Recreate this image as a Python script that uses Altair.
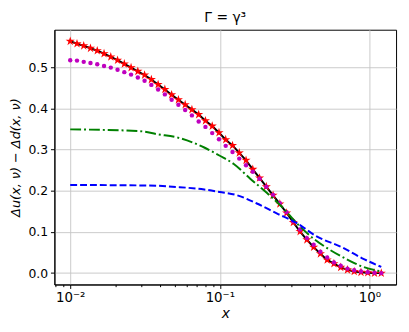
import altair as alt
import pandas as pd

# ---- data ----
x_pts = [0.0100, 0.01110, 0.01231, 0.01366, 0.01516, 0.01683, 0.01867, 0.02072,
         0.02299, 0.02551, 0.02831, 0.03141, 0.03486, 0.03868, 0.04292, 0.04764,
         0.05286, 0.05866, 0.06509, 0.07223, 0.08015, 0.08894, 0.09872, 0.1095,
         0.1216, 0.1349, 0.1497, 0.1661, 0.1843, 0.2045, 0.2270, 0.2519,
         0.2795, 0.3101, 0.3441, 0.3819, 0.4238, 0.4703, 0.5219, 0.5791,
         0.6427, 0.7132, 0.7914, 0.8782, 0.9745, 1.0814, 1.2000]
curve_black = [0.563, 0.557, 0.552, 0.546, 0.540, 0.533, 0.525, 0.517,
               0.508, 0.499, 0.490, 0.481, 0.470, 0.458, 0.446, 0.433,
               0.421, 0.409, 0.397, 0.385, 0.370, 0.357, 0.341, 0.324,
               0.310, 0.292, 0.274, 0.252, 0.231, 0.210, 0.189, 0.168,
               0.146, 0.123, 0.101, 0.081, 0.063, 0.047, 0.032, 0.023,
               0.014, 0.008, 0.004, 0.002, 0.001, 0.000, 0.000]
curve_stars = curve_black
curve_magenta = [0.517, 0.516, 0.513, 0.510, 0.507, 0.503, 0.499, 0.494,
                 0.488, 0.482, 0.475, 0.467, 0.457, 0.446, 0.434, 0.421,
                 0.409, 0.396, 0.383, 0.368, 0.355, 0.340, 0.325, 0.309,
                 0.294, 0.278, 0.262, 0.246, 0.229, 0.210, 0.190, 0.170,
                 0.148, 0.126, 0.106, 0.085, 0.069, 0.052, 0.038, 0.026,
                 0.018, 0.011, 0.007, 0.004, 0.002, 0.001, 0.000]
x_green = [0.0100, 0.0285, 0.0387, 0.0524, 0.0787, 0.1000, 0.124, 0.159,
           0.206, 0.265, 0.325, 0.419, 0.536, 0.695, 0.895, 1.200]
curve_green = [0.349, 0.345, 0.337, 0.329, 0.305, 0.285, 0.265, 0.230,
               0.195, 0.158, 0.122, 0.085, 0.058, 0.035, 0.016, 0.004]
x_blue = [0.0100, 0.0285, 0.0387, 0.0524, 0.0787, 0.1000, 0.1305, 0.1768,
          0.240, 0.325, 0.440, 0.661, 0.895, 1.200]
curve_blue = [0.214, 0.213, 0.212, 0.209, 0.203, 0.197, 0.189, 0.169,
              0.145, 0.122, 0.090, 0.062, 0.036, 0.015]

major_ticks = [0.01, 0.1, 1.0]
major_labels = ["10⁻²", "10⁻¹", "10⁰"]
minor_ticks = [0.008, 0.009, 0.02, 0.03, 0.04, 0.05, 0.06, 0.07, 0.08, 0.09,
               0.2, 0.3, 0.4, 0.5, 0.6, 0.7, 0.8, 0.9]
y_ticks = [0.0, 0.1, 0.2, 0.3, 0.4, 0.5]

x_dom = [0.00784, 1.507]
y_dom = [-0.0276, 0.591]

df_main = pd.DataFrame({"x": x_pts, "black": curve_black,
                        "stars": curve_stars, "mag": curve_magenta})
df_green = pd.DataFrame({"x": x_green, "y": curve_green})
df_blue = pd.DataFrame({"x": x_blue, "y": curve_blue})

xs = alt.Scale(type="log", domain=x_dom, nice=False)
ys = alt.Scale(domain=y_dom, nice=False, zero=False)

FONT = "DejaVu Sans"
label_expr = " : ".join(
    f"datum.value == {v} ? '{l}'" for v, l in zip(major_ticks[:-1], major_labels[:-1])
) + f" : '{major_labels[-1]}'"

x_axis_major = alt.Axis(values=major_ticks, labelExpr=label_expr, grid=True,
                        gridColor="#c4c4c4", gridWidth=0.9, tickSize=4,
                        tickColor="black", domainColor="black", orient="bottom",
                        labelFont=FONT, labelFontSize=13.5, labelColor="black",
                        labelPadding=2, title="x", titleFont=FONT,
                        titleFontSize=14, titleFontStyle="italic",
                        titleFontWeight="normal", titleColor="black",
                        titlePadding=3)
x_axis_minor = alt.Axis(values=minor_ticks, labels=False, grid=False,
                        tickSize=2.2, tickColor="black", domain=False,
                        orient="bottom", title=None)
y_axis = alt.Axis(values=y_ticks, format=".1f", grid=True, gridColor="#c4c4c4",
                  gridWidth=0.9, tickSize=4, tickColor="black",
                  domainColor="black", labelFont=FONT, labelFontSize=12.5,
                  labelColor="black", labelPadding=3, orient="left",
                  title="Δu(x, ν) − Δd(x, ν)", titleFont=FONT,
                  titleFontSize=13, titleFontStyle="italic",
                  titleFontWeight="normal", titleColor="black", titlePadding=5)

black = alt.Chart(df_main).mark_line(color="black", strokeWidth=2).encode(
    x=alt.X("x:Q", scale=xs, axis=x_axis_major),
    y=alt.Y("black:Q", scale=ys, axis=y_axis),
)
minor = alt.Chart(df_main).mark_line(opacity=0).encode(
    x=alt.X("x:Q", scale=xs, axis=x_axis_minor),
    y=alt.Y("black:Q", scale=ys, axis=None),
)
star_path = ("M0,-1L0.223,-0.307L0.951,-0.309L0.361,0.117L0.588,0.809L0,0.38"
             "L-0.588,0.809L-0.361,0.117L-0.951,-0.309L-0.223,-0.307Z")
stars = alt.Chart(df_main).mark_point(shape=star_path, filled=True, color="red",
                                       size=95, opacity=1).encode(
    x=alt.X("x:Q", scale=xs, axis=None),
    y=alt.Y("stars:Q", scale=ys, axis=None),
)
mag = alt.Chart(df_main).mark_circle(color="#bf00bf", size=20, opacity=1).encode(
    x=alt.X("x:Q", scale=xs, axis=None),
    y=alt.Y("mag:Q", scale=ys, axis=None),
)
green = alt.Chart(df_green).mark_line(color="#008000", strokeWidth=2,
                                      strokeDash=[11, 3, 2, 3],
                                      interpolate="monotone").encode(
    x=alt.X("x:Q", scale=xs, axis=None),
    y=alt.Y("y:Q", scale=ys, axis=None),
)
blue = alt.Chart(df_blue).mark_line(color="#0000ff", strokeWidth=2,
                                    strokeDash=[7, 3],
                                    interpolate="monotone").encode(
    x=alt.X("x:Q", scale=xs, axis=None),
    y=alt.Y("y:Q", scale=ys, axis=None),
)

chart = (
    alt.layer(black, minor, stars, mag, green, blue)
    .resolve_axis(x="independent", y="independent")
    .properties(
        width=346, height=258,
        autosize=alt.AutoSizeParams(type="none"),
        padding={"left": 47, "top": 20, "right": 5, "bottom": 36},
        title=alt.TitleParams("Γ = γ³", font=FONT, fontSize=14,
                              fontWeight="normal", color="black", offset=5),
        background="white",
    )
    .configure_view(stroke="black", strokeWidth=1)
)

chart.save("out.html", embed_options={"renderer": "svg", "actions": False})
